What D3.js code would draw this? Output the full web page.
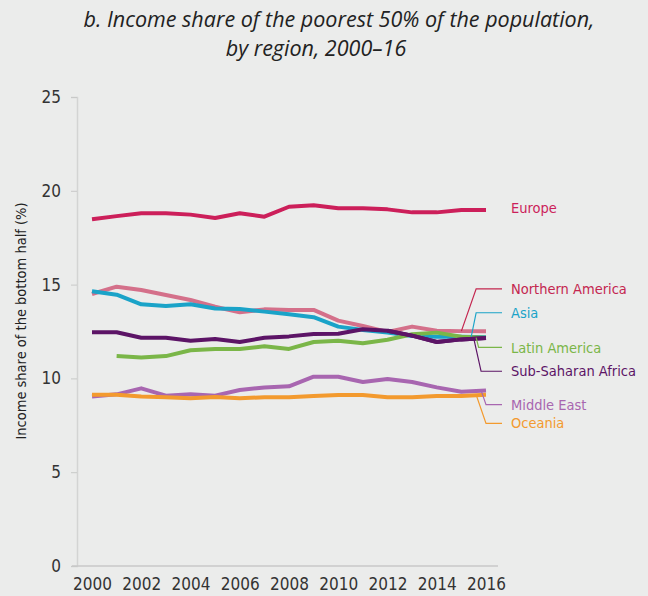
<!DOCTYPE html>
<html lang="en">
<head>
    <meta charset="UTF-8">
    <script src="https://cdn.jsdelivr.net/npm/d3@7"></script>
    <style>
        body { margin: 0; background: #ebeceb; }
        svg { display: block; }
    </style>
</head>
<body>
    <svg id="chart" width="648" height="596"></svg>
    <script>
        // data
        const years = d3.range(2000, 2017);
        const regions = ["Europe", "Northern America", "Asia", "Latin America", "Sub-Saharan Africa", "Middle East", "Oceania"];
        const colors = ["#cc1f5a", "#d4708a", "#1aa3c8", "#7ab648", "#5c1466", "#a866b0", "#f39a2e"];
        const europe = [18.48, 18.65, 18.8, 18.8, 18.73, 18.55, 18.8, 18.62, 19.15, 19.23, 19.07, 19.07, 19.01, 18.85, 18.85, 18.98, 18.98];
        const northernAmerica = [14.5, 14.89, 14.71, 14.45, 14.18, 13.82, 13.52, 13.68, 13.65, 13.65, 13.08, 12.79, 12.47, 12.76, 12.54, 12.52, 12.52];
        const asia = [14.64, 14.46, 13.95, 13.86, 13.95, 13.73, 13.7, 13.56, 13.42, 13.26, 12.76, 12.58, 12.44, 12.26, 12.22, 12.22, 12.19];
        const latinAmerica = [null, 11.19, 11.12, 11.19, 11.5, 11.57, 11.57, 11.71, 11.57, 11.94, 12.01, 11.87, 12.06, 12.35, 12.44, 12.22, 12.17];
        const subSaharanAfrica = [12.46, 12.46, 12.17, 12.17, 12.01, 12.1, 11.94, 12.17, 12.24, 12.37, 12.38, 12.62, 12.54, 12.28, 11.94, 12.08, 12.15];
        const middleEast = [9.03, 9.15, 9.47, 9.08, 9.15, 9.08, 9.38, 9.52, 9.58, 10.09, 10.09, 9.81, 9.97, 9.81, 9.52, 9.29, 9.36];
        const oceania = [9.13, 9.13, 9.03, 9.0, 8.94, 9.01, 8.94, 9.0, 9.0, 9.06, 9.12, 9.12, 9.0, 9.0, 9.06, 9.06, 9.13];
        const seriesValues = [europe, northernAmerica, asia, latinAmerica, subSaharanAfrica, middleEast, oceania];
        const yTicks = [0, 5, 10, 15, 20, 25];
        const xTicks = d3.range(2000, 2017, 2);

        // label placement (value units for height, year the leader points to)
        const labelAt = [19.08, 14.77, 13.5, 11.65, 10.38, 8.6, 7.6];
        const leaderYear = [null, 2015, 2015.4, 2015.6, 2015.5, 2015.8, 2015.6];
        const leaderElbow = [null, 2015.6, 2015.6, 2015.7, 2015.8, 2016, 2016];
        const textColors = ["#cc1f5a", "#c4264f", "#1aa3c8", "#7ab648", "#5c1466", "#a866b0", "#f39a2e"];

        const svg = d3.select("#chart");
        const font = "'Liberation Sans Narrow', 'DejaVu Sans Condensed', sans-serif";

        const x = d3.scaleLinear().domain([2000, 2016]).range([92, 486]);
        const y = d3.scaleLinear().domain([0, 25]).range([566, 97]);

        // title
        const title = svg.append("text")
            .attr("text-anchor", "middle")
            .attr("font-family", "'Open Sans', sans-serif")
            .attr("font-style", "italic")
            .attr("font-size", 21.5)
            .attr("fill", "#222");
        title.append("tspan").attr("x", 339).attr("y", 27).text("b. Income share of the poorest 50% of the population,");
        title.append("tspan").attr("x", 316).attr("y", 56).text("by region, 2000\u201316");

        // y axis
        const yAxis = svg.append("g")
            .attr("transform", "translate(77,0)")
            .call(d3.axisLeft(y).tickValues(yTicks).tickSize(6).tickPadding(10));
        yAxis.select(".domain").attr("stroke", "#d3d4d3").attr("stroke-width", 1.5);
        yAxis.selectAll(".tick line").attr("stroke", "#c8c9c8");
        yAxis.selectAll(".tick text")
            .attr("font-family", font)
            .attr("font-size", 17)
            .attr("fill", "#333");

        // x axis
        const xAxis = svg.append("g")
            .attr("transform", "translate(0,566)")
            .call(d3.axisBottom(x).tickValues(xTicks).tickFormat(d3.format("d")).tickSize(0).tickPadding(12));
        xAxis.select(".domain").attr("d", "M72,0H498").attr("stroke", "#c8c9c8").attr("stroke-width", 1.5);
        xAxis.selectAll(".tick text")
            .attr("font-family", font)
            .attr("font-size", 17)
            .attr("fill", "#333");

        svg.append("text")
            .attr("transform", "translate(26,321) rotate(-90)")
            .attr("text-anchor", "middle")
            .attr("font-family", font)
            .attr("font-size", 14.5)
            .attr("fill", "#222")
            .text("Income share of the bottom half (%)");

        // lines
        const line = d3.line()
            .defined(d => d[1] != null)
            .x(d => x(d[0]))
            .y(d => y(d[1]));

        const drawOrder = [1, 2, 3, 4, 5, 6, 0];
        drawOrder.forEach(i => {
            svg.append("path")
                .datum(years.map((yr, j) => [yr, seriesValues[i][j]]))
                .attr("fill", "none")
                .attr("stroke", colors[i])
                .attr("stroke-width", 4)
                .attr("stroke-linejoin", "round")
                .attr("d", line);
        });
        // sub-saharan africa sits on top at the right end
        svg.append("path")
            .datum(years.slice(12).map((yr, j) => [yr, subSaharanAfrica[j + 12]]))
            .attr("fill", "none")
            .attr("stroke", colors[4])
            .attr("stroke-width", 4)
            .attr("d", line);

        // leaders and labels
        regions.forEach((name, i) => {
            const ly = y(labelAt[i]);
            if (leaderYear[i] != null) {
                const idx = Math.min(16, Math.round(leaderYear[i] - 2000));
                const ty = y(seriesValues[i][idx]);
                svg.append("path")
                    .attr("fill", "none")
                    .attr("stroke", textColors[i])
                    .attr("stroke-width", 1.2)
                    .attr("d", `M${x(leaderYear[i])},${ty}L${x(leaderElbow[i])},${ly}H502`);
            }
            svg.append("text")
                .attr("x", 511)
                .attr("y", ly)
                .attr("dy", "0.35em")
                .attr("font-family", font)
                .attr("font-size", 14.5)
                .attr("fill", textColors[i])
                .text(name);
        });
    </script>
</body>
</html>
